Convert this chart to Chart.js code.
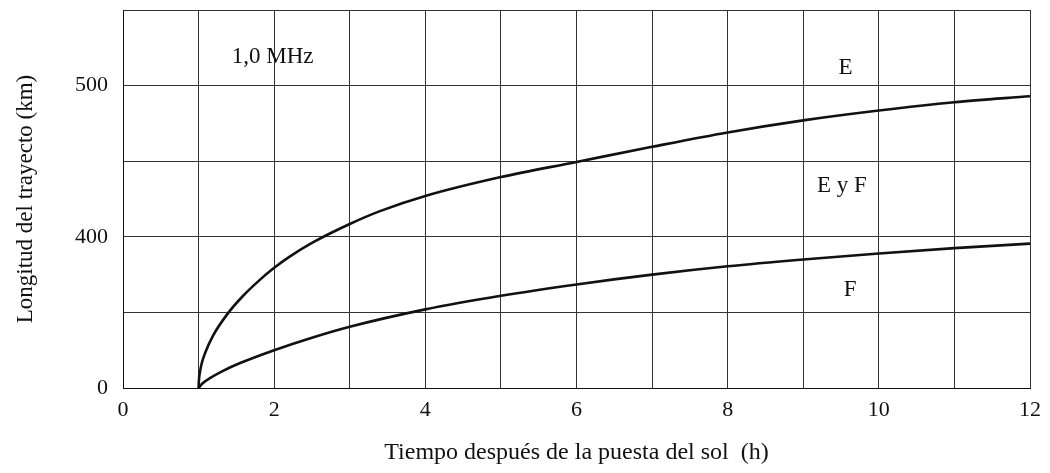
<!DOCTYPE html>
<html>
<head>
<meta charset="utf-8">
<script src="https://cdn.jsdelivr.net/npm/chart.js@4.4.1/dist/chart.umd.min.js"></script>
<style>
html,body{margin:0;padding:0;background:#fff;}
#wrap{width:1050px;height:473px;position:relative;}
</style>
</head>
<body>
<div id="wrap"><canvas id="c" width="1050" height="473"></canvas></div>
<script>
// Hours after sunset
const hoursE = [1, 1.005, 1.02, 1.04, 1.085, 1.19, 1.39, 1.59, 1.81, 2, 2.2, 2.5, 3, 3.4, 4, 5, 6, 7, 8, 9, 10, 11, 12];
// E-layer curve, in axis grid units (0 = "0", 2 = "400", 4 = "500")
const eLayer = [0, 0.11, 0.22, 0.32, 0.46, 0.69, 0.99, 1.22, 1.43, 1.59, 1.735, 1.92, 2.17, 2.34, 2.54, 2.79, 2.99, 3.19, 3.38, 3.54, 3.67, 3.78, 3.86];
const hoursF = [1, 1.05, 1.15, 1.33, 1.55, 2, 2.5, 3, 4, 5, 6, 7, 8, 9, 10, 11, 12];
// F-layer curve
const fLayer = [0, 0.06, 0.13, 0.23, 0.33, 0.50, 0.665, 0.81, 1.04, 1.22, 1.37, 1.50, 1.61, 1.70, 1.78, 1.85, 1.91];
// Tick labels
const xTickLabels = {0:'0', 2:'2', 4:'4', 6:'6', 8:'8', 10:'10', 12:'12'};
const yTickLabels = ['0', '', '400', '', '500', ''];
// In-plot labels [text, x(h), y(grid units)]
const notes = [['1,0 MHz', 1.98, 4.38], ['E', 9.56, 4.23], ['E y F', 9.51, 2.67], ['F', 9.62, 1.30]];

const FONT = '"Liberation Serif", "DejaVu Serif", serif';

const notesPlugin = {
  id: 'notes',
  afterDatasetsDraw(chart) {
    const ctx = chart.ctx, xs = chart.scales.x, ys = chart.scales.y;
    ctx.save();
    ctx.fillStyle = '#111';
    ctx.font = '23px ' + FONT;
    ctx.textAlign = 'center';
    ctx.textBaseline = 'middle';
    notes.forEach(n => ctx.fillText(n[0], xs.getPixelForValue(n[1]), ys.getPixelForValue(n[2])));
    ctx.restore();
  }
};

function flatPad(s) { s.paddingTop = 0; s.paddingBottom = 0; s.paddingLeft = 0; s.paddingRight = 0; }

new Chart(document.getElementById('c'), {
  type: 'line',
  data: {
    datasets: [
      { label: 'E', data: hoursE.map((h, i) => ({x: h, y: eLayer[i]})), borderColor: '#111', borderWidth: 2.6, pointRadius: 0, fill: false, cubicInterpolationMode: 'monotone' },
      { label: 'F', data: hoursF.map((h, i) => ({x: h, y: fLayer[i]})), borderColor: '#111', borderWidth: 2.6, pointRadius: 0, fill: false, cubicInterpolationMode: 'monotone' }
    ]
  },
  options: {
    responsive: false,
    animation: false,
    layout: { padding: { left: 0, right: 20, top: 10, bottom: 0 } },
    plugins: { legend: { display: false }, tooltip: { enabled: false } },
    scales: {
      x: {
        type: 'linear', min: 0, max: 12,
        afterFit(s) { s.height = 85; flatPad(s); },
        grid: { color: '#333', lineWidth: 1, drawTicks: false },
        border: { color: '#111', width: 1 },
        ticks: { stepSize: 1, padding: 9, color: '#111', font: { family: FONT, size: 22 }, maxRotation: 0, autoSkip: false,
          callback: v => (xTickLabels[v] !== undefined ? xTickLabels[v] : '') },
        title: { display: true, text: 'Tiempo después de la puesta del sol  (h)', color: '#111', font: { family: FONT, size: 24 }, padding: { top: 0, bottom: 6 } }
      },
      y: {
        type: 'linear', min: 0, max: 5,
        afterFit(s) { s.width = 123; flatPad(s); },
        grid: { color: '#333', lineWidth: 1, drawTicks: false },
        border: { color: '#111', width: 1 },
        ticks: { stepSize: 1, padding: 15, color: '#111', font: { family: FONT, size: 22 },
          callback: (v) => yTickLabels[v] || '' },
        title: { display: true, text: 'Longitud del trayecto (km)', color: '#111', font: { family: FONT, size: 23 }, padding: { top: 12, bottom: 0 } }
      }
    }
  },
  plugins: [notesPlugin]
});
</script>
</body>
</html>
